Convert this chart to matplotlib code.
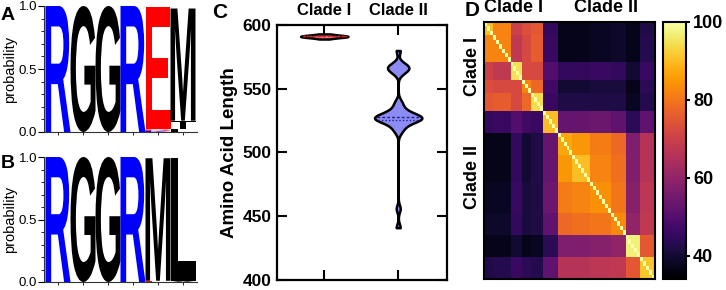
import numpy as np
import matplotlib
matplotlib.use('Agg')
import matplotlib.pyplot as plt
from matplotlib.textpath import TextPath
from matplotlib.patches import PathPatch
from matplotlib.font_manager import FontProperties
from matplotlib.transforms import Affine2D, blended_transform_factory

plt.rcParams['font.family'] = ['Liberation Sans', 'DejaVu Sans']

# ---------------- data ----------------
# Sequence logos: per position, stacked letters bottom->top (letter, probability)
logo_positions = [1, 2, 3, 4, 5, 6]
logoA = [
    [('R', 1.0)],
    [('G', 1.0)],
    [('G', 1.0)],
    [('R', 1.0)],
    [('K', 0.01), ('D', 0.01), ('E', 0.97)],
    [('L', 0.02), ('T', 0.07), ('M', 0.89)],
]
logoB = [
    [('R', 1.0)],
    [('G', 1.0)],
    [('G', 1.0)],
    [('R', 1.0)],
    [('E', 0.01), ('M', 0.98)],
    [('V', 0.01), ('L', 0.98)],
]
letter_colors = {'R': '#0000FF', 'K': '#0000FF', 'E': '#FF0000', 'D': '#FF0000',
                 'G': '#000000', 'M': '#000000', 'L': '#000000', 'T': '#000000',
                 'V': '#000000'}

# Violin: amino-acid lengths per clade
clade_names = ['Clade I', 'Clade II']
clade1_lengths = [589, 590, 590, 591, 591, 591, 591, 591, 591, 591, 591, 591,
                  591, 591, 592, 592, 592, 593]
clade2_lengths = [441, 456,
                  516, 519, 521, 523, 524, 525, 526, 526, 527, 527, 527, 527,
                  528, 528, 529, 530, 531, 532, 534, 537, 540,
                  562, 564, 566, 566, 567, 568, 570,
                  580]
violin_fill = ['#F08080', '#8C8CF5']
violin_quart = ['#E02020', '#202080']

# Identity heatmap: groups (in order) with sizes and block mean identities (%)
group_names = ['Ia1', 'Ia2', 'Ib', 'Ic', 'Id', 'II0', 'IIa1', 'IIa2', 'IIa3', 'IIa4', 'IIb', 'IIc']
group_sizes = [3, 6, 4, 3, 4, 5, 5, 6, 7, 5, 5, 5]
block_identity = [
    [90, 82, 70, 73, 75, 45, 37, 37, 38, 39, 37, 42],
    [82, 82, 68, 72, 76, 46, 37, 37, 38, 39, 37, 43],
    [70, 68, 95, 72, 72, 50, 45, 45, 46, 45, 40, 46],
    [73, 72, 72, 82, 78, 47, 40, 40, 41, 41, 37, 44],
    [75, 76, 72, 78, 94, 46, 42, 42, 42, 42, 38, 43],
    [45, 46, 50, 47, 46, 90, 53, 53, 54, 52, 44, 52],
    [37, 37, 45, 40, 42, 53, 87, 85, 81, 78, 57, 66],
    [37, 37, 45, 40, 42, 53, 85, 90, 82, 79, 57, 66],
    [38, 38, 46, 41, 42, 54, 81, 82, 84, 80, 58, 67],
    [39, 39, 45, 41, 42, 52, 78, 79, 80, 83, 60, 68],
    [37, 37, 40, 37, 38, 44, 57, 57, 58, 60, 97, 75],
    [42, 43, 46, 44, 43, 52, 66, 66, 67, 68, 75, 91],
]
self_identity = 100
cbar_ticks = [40, 60, 80, 100]

# ---------------- figure ----------------
W, H = 726, 290
fig = plt.figure(figsize=(W / 100, H / 100), dpi=100)


def ax_px(l, t, r, b):
    return fig.add_axes([l / W, 1 - b / H, (r - l) / W, (b - t) / H])


def ftxt(x, y, s, **kw):
    fig.text(x / W, 1 - y / H, s, **kw)


fp_letter = FontProperties(family='Liberation Sans', weight='bold')


def draw_letter(ax, ch, x, y0, h, color, w=1.0):
    tp = TextPath((0, 0), ch, size=1, prop=fp_letter)
    bb = tp.get_extents()
    t = (Affine2D().translate(-bb.x0, -bb.y0)
         .scale(w / bb.width, h / bb.height)
         .translate(x - w / 2, y0))
    ax.add_patch(PathPatch(t.transform_path(tp), fc=color, ec='none', lw=0))


def logo_axes(box, logo):
    ax = ax_px(*box)
    for pos, stack in zip(logo_positions, logo):
        y = 0.0
        for ch, h in stack:
            draw_letter(ax, ch, pos, y, h, letter_colors[ch])
            y += h
    ax.set_xlim(0.44, 6.56)
    ax.set_ylim(0, 1.0)
    ax.set_xticks(logo_positions)
    ax.set_xticklabels([])
    ax.set_yticks([0, 0.5, 1.0])
    ax.set_yticklabels(['0.0', '0.5', '1.0'], fontsize=9.5)
    ax.set_yticks(np.arange(0, 1.01, 0.1), minor=True)
    ax.tick_params(axis='y', which='major', length=4, width=0.8, pad=1)
    ax.tick_params(axis='y', which='minor', length=2, width=0.6)
    ax.tick_params(axis='x', length=2.5, width=0.6)
    for s in ['top', 'right']:
        ax.spines[s].set_visible(False)
    for s in ['left', 'bottom']:
        ax.spines[s].set_linewidth(0.8)
        ax.spines[s].set_color('#333333')
    ax.set_ylabel('probability', fontsize=10.5, labelpad=1)
    return ax


logo_axes((44, 6, 197, 132), logoA)
logo_axes((44, 157, 197, 282), logoB)

ftxt(1, 15, 'A', fontsize=14, fontweight='bold', va='center', ha='left')
ftxt(1, 163, 'B', fontsize=14, fontweight='bold', va='center', ha='left')

# ---------------- panel C: violins ----------------
axc = ax_px(277, 25, 447, 280)
max_half = 0.32
for i, (vals, bw) in enumerate([(clade1_lengths, 0.9), (clade2_lengths, 3.0)]):
    v = np.asarray(vals, float)
    ys = np.linspace(v.min(), v.max(), 600)
    dens = np.exp(-0.5 * ((ys[:, None] - v[None, :]) / bw) ** 2).sum(axis=1)
    half = dens / dens.max() * max_half
    axc.fill_betweenx(ys, i - half, i + half, facecolor=violin_fill[i],
                      edgecolor='black', linewidth=1.8, zorder=2)
    for q, ls in [(25, (0, (1, 1.5))), (50, (0, (2, 1.5))), (75, (0, (1, 1.5)))]:
        yq = np.percentile(v, q)
        hw = np.interp(yq, ys, half) * 0.9
        axc.plot([i - hw, i + hw], [yq, yq], color=violin_quart[i], lw=1.0,
                 linestyle=ls, zorder=3)

axc.set_ylim(400, 600)
axc.set_xlim(-0.64, 1.66)
axc.set_yticks([400, 450, 500, 550, 600])
axc.set_xticks([0, 1])
axc.set_xticklabels([])
axc.tick_params(axis='both', direction='in', length=7.5, width=1.5,
                top=True, right=True, labelsize=12.5, pad=4)
for lab in axc.get_yticklabels():
    lab.set_fontweight('bold')
for s in axc.spines.values():
    s.set_linewidth(1.6)
axc.set_ylabel('Amino Acid Length', fontsize=13.5, fontweight='bold', labelpad=3)
trc = blended_transform_factory(axc.transData, axc.transAxes)
for i, name in enumerate(clade_names):
    axc.text(i, 1.058, name, transform=trc, ha='center', va='center',
             fontsize=12, fontweight='bold')
ftxt(212, 12, 'C', fontsize=15, fontweight='bold', va='center', ha='left')

# ---------------- panel D: heatmap ----------------
labels = np.repeat(np.arange(len(group_sizes)), group_sizes)
B = np.asarray(block_identity, float)
M = B[labels][:, labels]
np.fill_diagonal(M, self_identity)

axd = ax_px(484, 22, 655, 279)
im = axd.imshow(M, cmap='inferno', vmin=34, vmax=100, aspect='auto',
                interpolation='nearest')
axd.set_xticks([])
axd.set_yticks([])
for s in axd.spines.values():
    s.set_linewidth(1.5)

cax = ax_px(663, 22, 686, 279)
cb = fig.colorbar(im, cax=cax, ticks=cbar_ticks)
cb.outline.set_linewidth(1.5)
cax.tick_params(length=3, width=1.5, labelsize=13, pad=2)
for lab in cax.get_yticklabels():
    lab.set_fontweight('bold')

n1 = sum(group_sizes[:5])
N = len(labels)
trd_top = blended_transform_factory(axd.transData, axd.transAxes)
axd.text((n1 - 1) / 2, 1.058, 'Clade I', transform=trd_top, ha='center', va='center',
         fontsize=13, fontweight='bold')
axd.text((n1 + N - 1) / 2 + 2.5, 1.058, 'Clade II', transform=trd_top, ha='center',
         va='center', fontsize=13, fontweight='bold')
trd_left = blended_transform_factory(axd.transAxes, axd.transData)
axd.text(-0.065, (n1 - 1) / 2, 'Clade I', transform=trd_left, ha='center', va='center',
         rotation=90, fontsize=13, fontweight='bold')
axd.text(-0.065, (n1 + N - 1) / 2 - 4, 'Clade II', transform=trd_left, ha='center',
         va='center', rotation=90, fontsize=13, fontweight='bold')
ftxt(465, 11, 'D', fontsize=15, fontweight='bold', va='center', ha='left')

fig.savefig('out.png', dpi=100)
